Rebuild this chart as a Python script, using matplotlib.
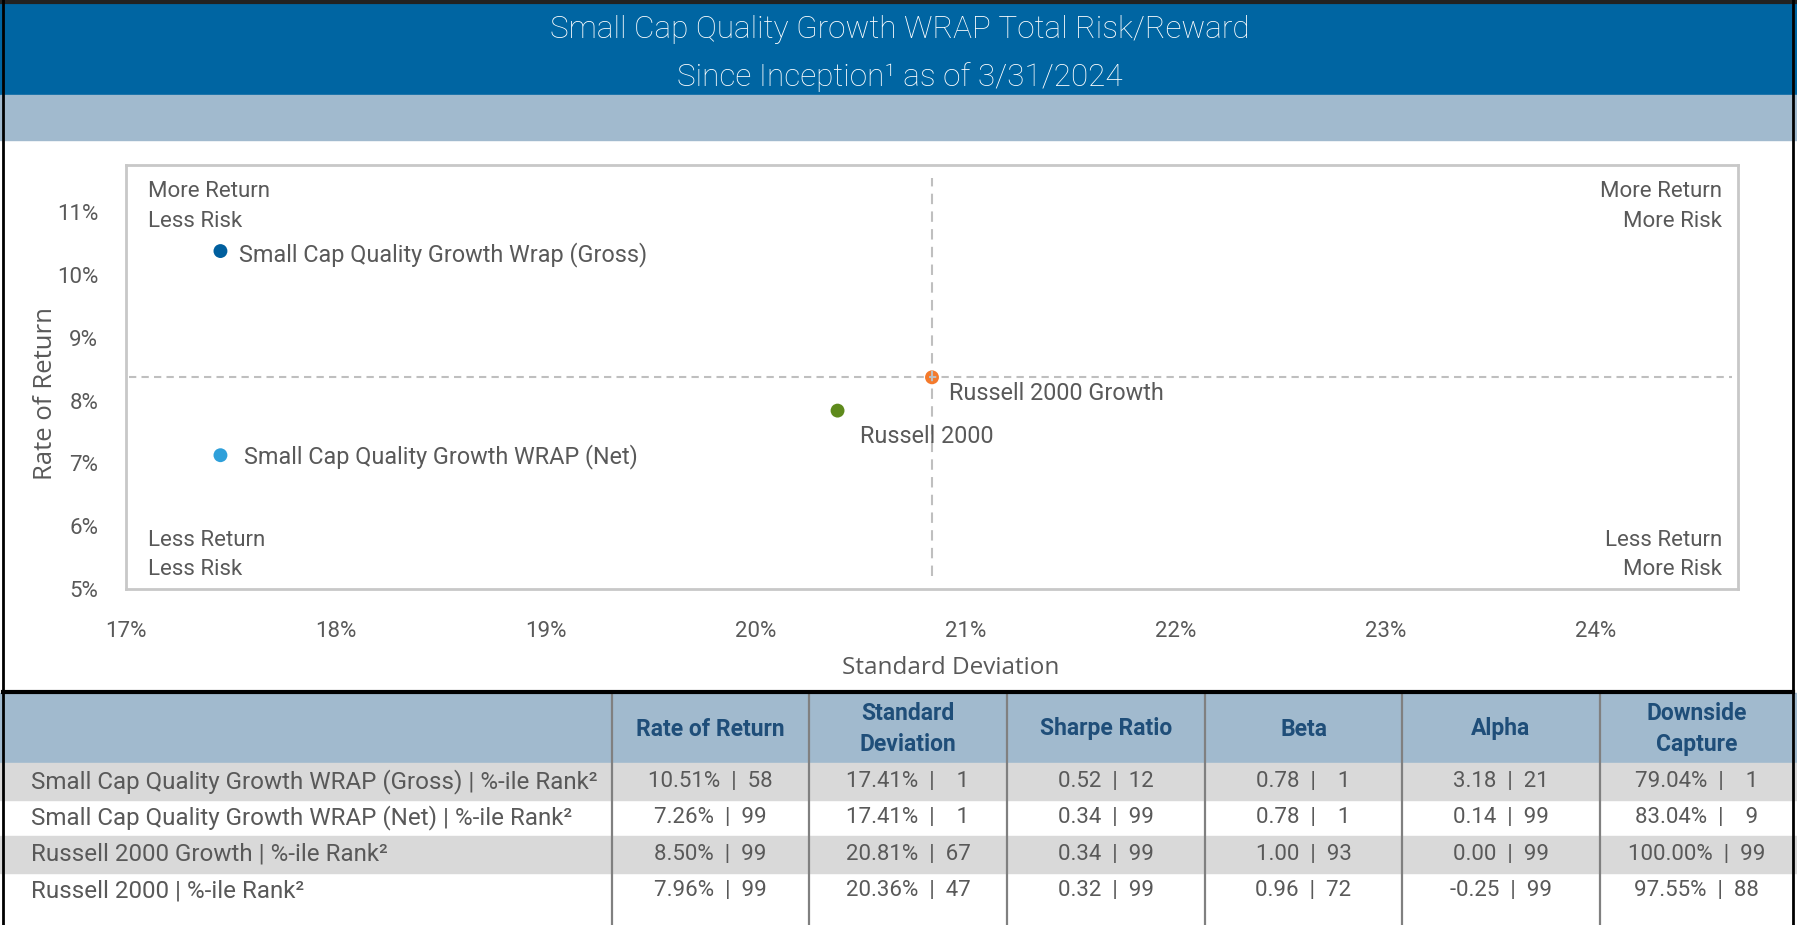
import matplotlib
matplotlib.use("Agg")
import matplotlib.pyplot as plt
from matplotlib.patches import Rectangle

# ---------------- data ----------------
title_lines = ["Small Cap Quality Growth WRAP Total Risk/Reward",
               "Since Inception\u00b9 as of 3/31/2024"]

point_names = ["Small Cap Quality Growth Wrap (Gross)",
               "Small Cap Quality Growth WRAP (Net)",
               "Russell 2000 Growth",
               "Russell 2000"]
point_std = [17.45, 17.45, 20.84, 20.39]
point_ret = [10.38, 7.13, 8.37, 7.84]
point_colors = ["#005F9E", "#2FA0DA", "#F47A2C", "#5E8A1C"]

x_ticks = [17, 18, 19, 20, 21, 22, 23, 24]
y_ticks = [5, 6, 7, 8, 9, 10, 11]

quad_labels = ["More Return\nLess Risk", "More Return\nMore Risk",
               "Less Return\nLess Risk", "Less Return\nMore Risk"]

col_headers = ["Rate of Return", "Standard\nDeviation", "Sharpe Ratio",
               "Beta", "Alpha", "Downside\nCapture"]
row_labels = ["Small Cap Quality Growth WRAP (Gross) | %-ile Rank\u00b2",
              "Small Cap Quality Growth WRAP (Net) | %-ile Rank\u00b2",
              "Russell 2000 Growth | %-ile Rank\u00b2",
              "Russell 2000 | %-ile Rank\u00b2"]
ror_val = ["10.51%", "7.26%", "8.50%", "7.96%"]
ror_rank = [58, 99, 99, 99]
sd_val = ["17.41%", "17.41%", "20.81%", "20.36%"]
sd_rank = [1, 1, 67, 47]
sharpe_val = ["0.52", "0.34", "0.34", "0.32"]
sharpe_rank = [12, 99, 99, 99]
beta_val = ["0.78", "0.78", "1.00", "0.96"]
beta_rank = [1, 1, 93, 72]
alpha_val = ["3.18", "0.14", "0.00", "-0.25"]
alpha_rank = [21, 99, 99, 99]
down_val = ["79.04%", "83.04%", "100.00%", "97.55%"]
down_rank = [1, 9, 99, 88]

# ---------------- style ----------------
FONT = "Roboto"
GREY_TXT = "#595959"
BLUE = "#0065A2"
LIGHT = "#A1BACE"
ROWGREY = "#D9D9D9"
HDR_TXT = "#1F4E79"

W, H = 1797, 925
fig = plt.figure(figsize=(W / 100, H / 100), dpi=100)
fig.patch.set_facecolor("white")

bg = fig.add_axes([0, 0, 1, 1])
bg.set_xlim(0, W)
bg.set_ylim(H, 0)
bg.axis("off")

# title bands
bg.add_patch(Rectangle((0, 0), W, 95, color=BLUE, zorder=1))
bg.add_patch(Rectangle((0, 95), W, 45, color=LIGHT, zorder=1))
bg.text(900, 30, title_lines[0], color="white", fontsize=22.7, family=FONT,
        fontweight="light", ha="center", va="center", zorder=3)
bg.text(900, 77, title_lines[1], color="white", fontsize=22.7, family=FONT,
        fontweight="light", ha="center", va="center", zorder=3)

# ---------------- table ----------------
hdr_top, hdr_bot = 693, 763
row_h = 36.5
col_edges = [3, 612, 809, 1007, 1205, 1402, 1600, 1793]
bg.add_patch(Rectangle((0, hdr_top), W, hdr_bot - hdr_top, color=LIGHT, zorder=1))
for i in range(len(row_labels)):
    y0 = hdr_bot + i * row_h
    if i % 2 == 0:
        bg.add_patch(Rectangle((0, y0), W, row_h, color=ROWGREY, zorder=1))
for x in col_edges[1:-1]:
    bg.plot([x, x], [hdr_top, H], color="#808080", lw=1.6, zorder=2)

for j, hdr in enumerate(col_headers):
    cx = (col_edges[j + 1] + col_edges[j + 2]) / 2
    bg.text(cx, (hdr_top + hdr_bot) / 2 + 1, hdr, color=HDR_TXT, fontsize=16.5,
            family=FONT, fontweight="bold", ha="center", va="center",
            linespacing=1.45, zorder=3)

columns = [(ror_val, ror_rank), (sd_val, sd_rank), (sharpe_val, sharpe_rank),
           (beta_val, beta_rank), (alpha_val, alpha_rank), (down_val, down_rank)]
for i, lab in enumerate(row_labels):
    cy = hdr_bot + (i + 0.5) * row_h
    bg.text(31, cy, lab, color=GREY_TXT, fontsize=17.4, family=FONT,
            ha="left", va="center", zorder=3)
    for j, (vals, ranks) in enumerate(columns):
        cx = (col_edges[j + 1] + col_edges[j + 2]) / 2
        r = ranks[i]
        s = f"{vals[i]}  |  {r}" if r >= 10 else f"{vals[i]}  |    {r}"
        bg.text(cx, cy, s, color=GREY_TXT, fontsize=16, family=FONT,
                ha="center", va="center", zorder=3)

# borders
bg.plot([0, W], [1.5, 1.5], color="#222222", lw=3, zorder=5)
bg.plot([3, 3], [0, H], color="black", lw=2, zorder=5)
bg.plot([1793, 1793], [0, H], color="black", lw=2, zorder=5)
bg.plot([3, 1793], [692, 692], color="black", lw=3, zorder=5)

# ---------------- scatter chart ----------------
L, R, T, B = 126, 1738, 165, 589
ax = fig.add_axes([L / W, 1 - B / H, (R - L) / W, (B - T) / H])
ax.set_xlim(17, 24.68)
ax.set_ylim(5, 11.75)
for sp in ax.spines.values():
    sp.set_color("#C8C8C8")
    sp.set_linewidth(2)
ax.set_xticks(x_ticks)
ax.set_xticklabels([f"{t}%" for t in x_ticks])
ax.set_yticks(y_ticks)
ax.set_yticklabels([f"{t}%" for t in y_ticks])
ax.tick_params(length=0, labelsize=16, labelcolor=GREY_TXT)
ax.tick_params(axis="x", pad=23)
ax.tick_params(axis="y", pad=20)
for lbl in ax.get_xticklabels() + ax.get_yticklabels():
    lbl.set_family(FONT)

ax.set_xlabel("Standard Deviation", fontsize=17.5, color=GREY_TXT,
              family="Open Sans")
ax.xaxis.set_label_coords((951 - L) / (R - L), -(656 - B) / (B - T))
ax.set_ylabel("Rate of Return", fontsize=18.5, color=GREY_TXT, family="Open Sans")
ax.yaxis.set_label_coords((58 - L) / (R - L), (B - 393) / (B - T))

# reference lines through the benchmark point
ax.axhline(point_ret[2], xmin=0.002, xmax=0.996, color="#BFBFBF", lw=1.5,
           dashes=(3.5, 2.5), zorder=3)
ax.axvline(point_std[2], ymin=0.03, ymax=0.97, color="#BFBFBF", lw=1.5,
           dashes=(5, 3.5), zorder=3)

ax.scatter(point_std, point_ret, s=100, c=point_colors, zorder=2, linewidths=0)
offsets = [(19, -3), (24, -1), (17, -16), (22, -26)]
for name, x, y, off in zip(point_names, point_std, point_ret, offsets):
    ax.annotate(name, (x, y), xytext=off, textcoords="offset pixels",
                ha="left", va="center", fontsize=16.8, color=GREY_TXT, family=FONT)

qpos = [(0.0136, 0.902, "left"), (0.990, 0.902, "right"),
        (0.0136, 0.080, "left"), (0.990, 0.080, "right")]
for txt, (qx, qy, ha) in zip(quad_labels, qpos):
    ax.text(qx, qy, txt, transform=ax.transAxes, ha=ha, va="center",
            multialignment=ha, fontsize=16, color=GREY_TXT, family=FONT,
            linespacing=1.55)

fig.savefig("out.png", dpi=100, facecolor="white")
